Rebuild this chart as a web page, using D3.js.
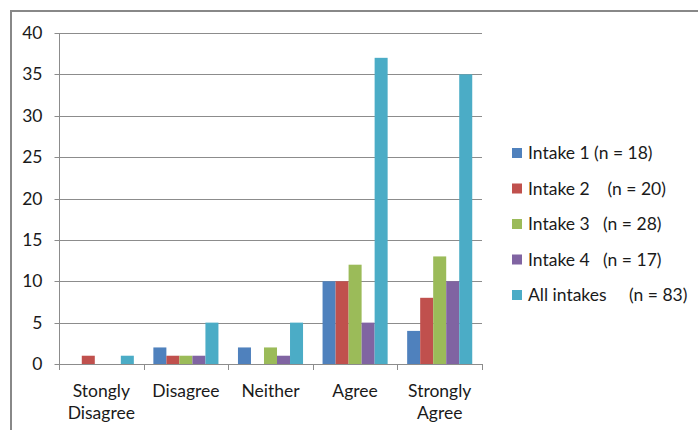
<!DOCTYPE html>
<html><head><meta charset="utf-8">
<script src="https://cdnjs.cloudflare.com/ajax/libs/d3/7.8.5/d3.min.js"></script>
<style>
body{margin:0;background:#fff;}
text{font-family:Lato, "Open Sans", sans-serif;fill:#1a1a1a;}
</style></head>
<body><svg id="c" width="698" height="430"></svg>
<script>
const categories = [["Stongly","Disagree"],["Disagree"],["Neither"],["Agree"],["Strongly","Agree"]];
const seriesNames = ["Intake 1 (n = 18)","Intake 2    (n = 20)","Intake 3   (n = 28)","Intake 4   (n = 17)","All intakes     (n = 83)"];
const intake1 = [0,2,2,10,4];
const intake2 = [1,1,0,10,8];
const intake3 = [0,1,2,12,13];
const intake4 = [0,1,1,5,10];
const allIntakes = [1,5,5,37,35];
const yTicks = [0,5,10,15,20,25,30,35,40];
const colors = ["#4F81BD","#C0504D","#9BBB59","#8064A2","#4BACC6"];

(function(){
const series = [intake1,intake2,intake3,intake4,allIntakes];
const svg = d3.select("#c");
const pL=59,pR=482,pT=33,pB=364;
const fs = 17.5;

svg.append("path").attr("d","M11,430 V11 H698").attr("fill","none").attr("stroke","#888").attr("stroke-width",2);

const xc = d3.scaleBand().domain(d3.range(categories.length)).range([pL,pR]);
const inner = d3.scaleBand().domain(d3.range(series.length)).range([0,xc.bandwidth()]).paddingOuter(0.75);
const y = d3.scaleLinear().domain([0,40]).range([pB,pT]);

svg.append("g").selectAll("line").data(yTicks.filter(d=>d>0)).join("line")
  .attr("x1",pL).attr("x2",pR).attr("y1",d=>Math.round(y(d))+0.5).attr("y2",d=>Math.round(y(d))+0.5)
  .attr("stroke","#8c8c8c").attr("stroke-width",1);

series.forEach((s,si)=>{
  svg.append("g").selectAll("rect").data(s).join("rect")
    .attr("x",(d,i)=>xc(i)+inner(si))
    .attr("width",inner.bandwidth())
    .attr("y",d=>y(d))
    .attr("height",d=>y(0)-y(d))
    .attr("fill",colors[si]);
});

const ya = svg.append("g").attr("transform",`translate(${pL+0.5},0)`)
  .call(d3.axisLeft(y).tickValues(yTicks).tickSize(5).tickPadding(12));
ya.select(".domain").attr("stroke","#8c8c8c").attr("d",`M0,${pB}V${pT}`);
ya.selectAll(".tick line").attr("stroke","#8c8c8c");
ya.selectAll(".tick text").attr("font-size",fs).attr("fill","#1a1a1a").style("font-family","Lato, sans-serif");
ya.selectAll(".tick").attr("transform",d=>`translate(0,${Math.round(y(d))+0.5})`);

const xa = svg.append("g");
xa.append("line").attr("x1",pL).attr("x2",pR).attr("y1",pB+0.5).attr("y2",pB+0.5).attr("stroke","#8c8c8c");
xa.selectAll("line.t").data(d3.range(categories.length+1)).join("line").attr("class","t")
  .attr("x1",i=>Math.round(pL+i*xc.step())+0.5).attr("x2",i=>Math.round(pL+i*xc.step())+0.5)
  .attr("y1",pB).attr("y2",pB+6).attr("stroke","#8c8c8c");
const lab = xa.selectAll("text").data(categories).join("text")
  .attr("text-anchor","middle").attr("font-size",fs);
lab.each(function(lines,i){
  const t=d3.select(this);
  lines.forEach((l,j)=>t.append("tspan").attr("x",xc(i)+xc.bandwidth()/2).attr("y",397+j*22).text(l));
});

const lg = svg.append("g");
seriesNames.forEach((n,i)=>{
  const cy = 153+i*35.5;
  lg.append("rect").attr("x",512).attr("y",cy-5).attr("width",10).attr("height",10).attr("fill",colors[i]);
  lg.append("text").attr("x",528).attr("y",cy+6).attr("font-size",fs).style("white-space","pre").text(n);
});
})();
</script></body></html>
